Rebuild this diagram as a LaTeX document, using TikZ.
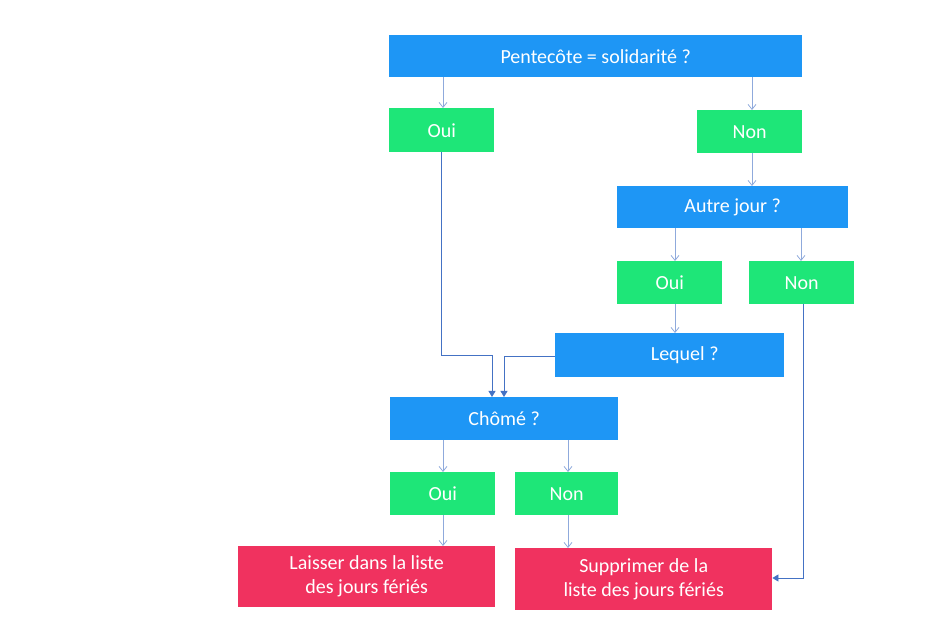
\documentclass[tikz,border=0pt]{standalone}
\usepackage{fontspec}
\setmainfont{Carlito}
\usetikzlibrary{arrows.meta}
\definecolor{bblue}{HTML}{1E96F5}
\definecolor{bgreen}{HTML}{1EE678}
\definecolor{bred}{HTML}{F0325F}
\definecolor{lline}{HTML}{8FAADC}
\definecolor{dline}{HTML}{4472C4}
\tikzset{
  box/.style={anchor=north west,inner sep=0,text=white,font=\fontsize{20}{24}\selectfont,align=center},
  ln/.style={lline,line width=0.8pt,-{Straight Barb[length=5pt,width=8pt]}},
  dl/.style={dline,line width=0.8pt,-{Triangle[length=6pt,width=7pt]}}
}
\begin{document}
\begin{tikzpicture}[x=1pt,y=-1pt]
\useasboundingbox (0,0) rectangle (946,620);
\node[box,fill=bblue,minimum width=413,minimum height=42] (p) at (389,35) {Pentecôte = solidarité ?};
\node[box,fill=bgreen,minimum width=105,minimum height=44] (o1) at (389,108) {Oui};
\node[box,fill=bgreen,minimum width=105,minimum height=43] (n1) at (697,110) {Non};
\node[box,fill=bblue,minimum width=231,minimum height=42] (a) at (617,186) {Autre jour ?};
\node[box,fill=bgreen,minimum width=105,minimum height=43] (o2) at (617,261) {Oui};
\node[box,fill=bgreen,minimum width=105,minimum height=43] (n2) at (749,261) {Non};
\node[box,fill=bblue,minimum width=229,minimum height=44] (l) at (555,333) {\hspace*{30pt}Lequel ?};
\node[box,fill=bblue,minimum width=228,minimum height=43] (c) at (390,397) {Chômé ?};
\node[box,fill=bgreen,minimum width=105,minimum height=43] (o3) at (390,472) {Oui};
\node[box,fill=bgreen,minimum width=103,minimum height=43] (n3) at (515,472) {Non};
\node[box,fill=bred,minimum width=257,minimum height=61] (s1) at (238,546) {Laisser dans la liste\\des jours fériés};
\node[box,fill=bred,minimum width=257,minimum height=62] (s2) at (515,548) {Supprimer de la\\liste des jours fériés};
\draw[ln] (p.south -| 443,0) -- (o1.north -| 443,0);
\draw[ln] (p.south -| 752,0) -- (n1.north -| 752,0);
\draw[ln] (n1.south -| 752,0) -- (a.north -| 752,0);
\draw[ln] (a.south -| 675,0) -- (o2.north -| 675,0);
\draw[ln] (a.south -| 801,0) -- (n2.north -| 801,0);
\draw[ln] (o2.south -| 675,0) -- (l.north -| 675,0);
\draw[ln] (c.south -| 443,0) -- (o3.north -| 443,0);
\draw[ln] (c.south -| 568,0) -- (n3.north -| 568,0);
\draw[ln] (o3.south -| 443,0) -- (s1.north -| 443,0);
\draw[ln] (n3.south -| 568,0) -- (s2.north -| 568,0);
\draw[dl] (o1.south -| 441,0) -- (441,355) -- (492,355) -- (c.north -| 492,0);
\draw[dl] (l.west |- 0,356) -- (504,356) -- (c.north -| 504,0);
\draw[dl] (n2.south -| 803,0) -- (803,578) -- (s2.east |- 0,578);
\end{tikzpicture}
\end{document}
